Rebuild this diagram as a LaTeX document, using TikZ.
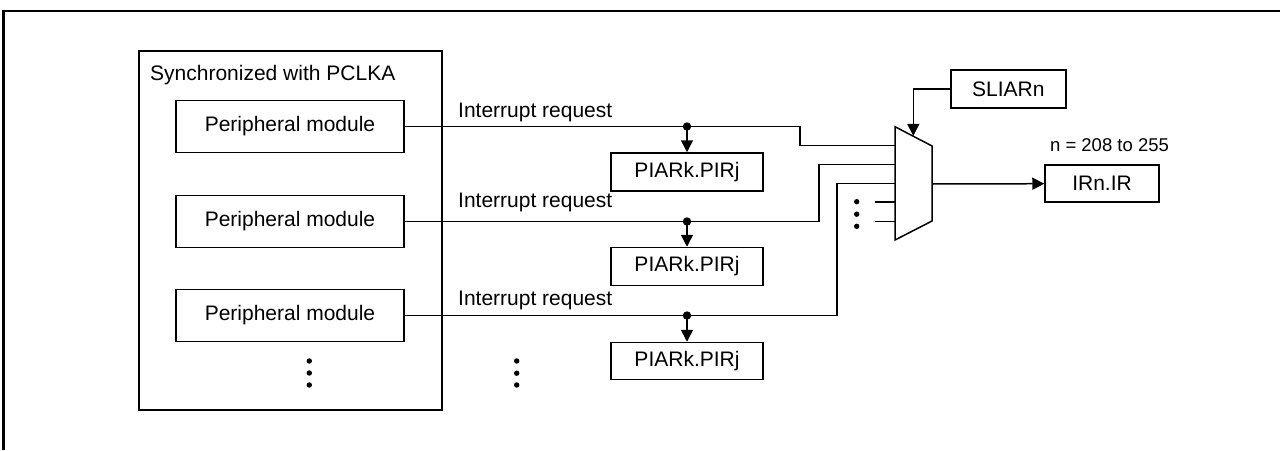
\documentclass[tikz,border=0pt]{standalone}
\usepackage{fontspec}
\setmainfont{Liberation Sans}
\usetikzlibrary{arrows.meta}
\tikzset{
  box/.style={draw, line width=1.5pt, minimum width=228pt, minimum height=52pt, inner sep=0pt, font=\fontsize{21}{25}\selectfont},
  reg/.style={draw, line width=1.5pt, inner sep=0pt, font=\fontsize{21}{25}\selectfont},
  lbl/.style={inner sep=0pt, font=\fontsize{21}{25}\selectfont},
  wire/.style={line width=1.5pt},
  arr/.style={line width=1.5pt, -{Triangle[length=12pt,width=12pt]}},
  jdot/.style={fill=black},
}
\begin{document}
\begin{tikzpicture}[x=1pt,y=-1pt]
\useasboundingbox (0,0) rectangle (1280,450);
% outer frame
\draw[line width=2.8pt] (3.7,450) -- (3.7,11) -- (1280,11);
% container
\node[draw, line width=1.5pt, minimum width=303pt, minimum height=359pt, inner sep=0pt] (cont) at (290.5,230.5) {};
\node[lbl, anchor=west] (title) at (150,75) {Synchronized with PCLKA};
% peripheral modules
\node[box] (pm1) at (290,126.5) {Peripheral module};
\node[box] (pm2) at (290,221.5) {Peripheral module};
\node[box] (pm3) at (290,315.5) {Peripheral module};
\foreach \y in {361,373,385} \fill (309.3,\y) circle (2.7pt);
\foreach \y in {361,373.2,385} \fill (516.7,\y) circle (2.7pt);
% PIAR registers
\node[reg, minimum width=152pt, minimum height=38pt] (piar1) at (687,172) {PIARk.PIRj};
\node[reg, minimum width=152pt, minimum height=38pt] (piar2) at (687,266.5) {PIARk.PIRj};
\node[reg, minimum width=152pt, minimum height=37pt] (piar3) at (687,361) {PIARk.PIRj};
% labels
\node[lbl, anchor=west] (ir1) at (458,112) {Interrupt request};
\node[lbl, anchor=west] (ir2) at (458,202) {Interrupt request};
\node[lbl, anchor=west] (ir3) at (458,300) {Interrupt request};
% selector (mux)
\draw[line width=1.5pt] (895,126.7) -- (932,146) -- (932,221) -- (895,240) -- cycle;
\coordinate (in1) at (895,145.7);
\coordinate (in2) at (895,164.5);
\coordinate (in3) at (895,183.5);
\coordinate (in4) at (895,202);
\coordinate (in5) at (895,221.5);
\coordinate (muxout) at (932,184);
\coordinate (muxtop) at (913.3,135.9);
% junctions
\coordinate (j1) at (687,126.5);
\coordinate (j2) at (687,221.5);
\coordinate (j3) at (687,315.5);
\coordinate (k1) at (800,145.7);
\coordinate (k2) at (819,164.5);
\coordinate (k3) at (837,183.5);
\coordinate (s4) at (875,202);
\coordinate (s5) at (875,221.5);
\draw[wire] (pm1.east) -| (k1) -- (in1);
\draw[wire] (pm2.east) -| (k2) -- (in2);
\draw[wire] (pm3.east) -| (k3) -- (in3);
\draw[wire] (s4) -- (in4);
\draw[wire] (s5) -- (in5);
\foreach \y in {201.7,214.2,226.3} \fill (856.7,\y) circle (2.7pt);
\draw[arr] (j1) -- (piar1.north);
\draw[arr] (j2) -- (piar2.north);
\draw[arr] (j3) -- (piar3.north);
\fill[jdot] (j1) circle (4.2pt);
\fill[jdot] (j2) circle (4.2pt);
\fill[jdot] (j3) circle (4.2pt);
% SLIARn
\node[reg, minimum width=115pt, minimum height=38pt] (sliar) at (1008.3,89) {SLIARn};
\draw[arr] (sliar.west) -| (muxtop);
% IRn.IR
\node[reg, minimum width=114pt, minimum height=37pt] (irn) at (1102,183.7) {IRn.IR};
\node[inner sep=0pt, font=\fontsize{18.5}{22}\selectfont] (nrange) at (1109.5,145) {n = 208 to 255};
\draw[arr] (muxout) -- (irn.west);
\end{tikzpicture}
\end{document}
